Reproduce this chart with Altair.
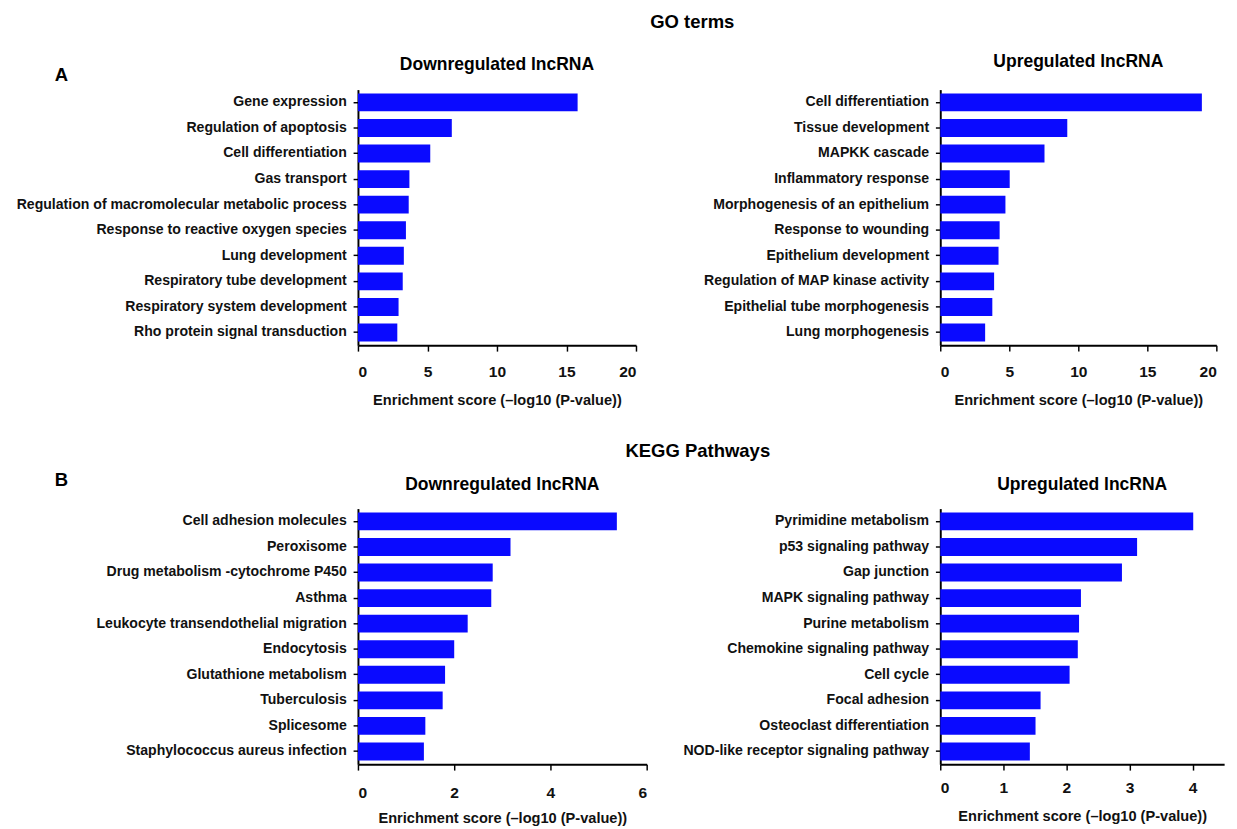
import altair as alt
import pandas as pd

# ---- data ----
go_down_terms = ["Gene expression", "Regulation of apoptosis", "Cell differentiation", "Gas transport",
                 "Regulation of macromolecular metabolic process", "Response to reactive oxygen species",
                 "Lung development", "Respiratory tube development", "Respiratory system development",
                 "Rho protein signal transduction"]
go_down_vals = [15.8, 6.75, 5.2, 3.7, 3.65, 3.45, 3.3, 3.22, 2.92, 2.83]

go_up_terms = ["Cell differentiation", "Tissue development", "MAPKK cascade", "Inflammatory response",
               "Morphogenesis of an epithelium", "Response to wounding", "Epithelium development",
               "Regulation of MAP kinase activity", "Epithelial tube morphogenesis", "Lung morphogenesis"]
go_up_vals = [18.95, 9.2, 7.55, 5.03, 4.72, 4.3, 4.22, 3.9, 3.77, 3.25]

kegg_down_terms = ["Cell adhesion molecules", "Peroxisome", "Drug metabolism -cytochrome P450", "Asthma",
                   "Leukocyte transendothelial migration", "Endocytosis", "Glutathione metabolism",
                   "Tuberculosis", "Splicesome", "Staphylococcus aureus infection"]
kegg_down_vals = [5.38, 3.17, 2.8, 2.77, 2.28, 2.0, 1.81, 1.76, 1.4, 1.37]

kegg_up_terms = ["Pyrimidine metabolism", "p53 signaling pathway", "Gap junction", "MAPK signaling pathway",
                 "Purine metabolism", "Chemokine signaling pathway", "Cell cycle", "Focal adhesion",
                 "Osteoclast differentiation", "NOD-like receptor signaling pathway"]
kegg_up_vals = [4.01, 3.12, 2.88, 2.23, 2.2, 2.18, 2.05, 1.59, 1.51, 1.42]

go_ticks = [0, 5, 10, 15, 20]
kegg_down_ticks = [0, 2, 4, 6]
kegg_up_ticks = [0, 1, 2, 3, 4]

AXIS_TITLE = "Enrichment score (\u2013log10 (P-value))"
BLUE = "#0a0aff"
FONT = "Liberation Sans, Arial, sans-serif"
PLOT_H = 263


def panel(terms, vals, title, domain, ticks, width, title_offset, letter=None, letter_y=-13,
          label_pad=13, title_pad=14):
    df = pd.DataFrame({"term": terms, "score": vals})
    bars = alt.Chart(df).mark_bar(color=BLUE).encode(
        y=alt.Y("term:N", sort=terms, title=None,
                scale=alt.Scale(paddingInner=0.3, paddingOuter=0.15),
                axis=alt.Axis(labelLimit=400, tickSize=5, labelPadding=7, labelFontSize=14.5)),
        x=alt.X("score:Q", title=AXIS_TITLE,
                scale=alt.Scale(domain=domain, nice=False),
                axis=alt.Axis(values=ticks, tickSize=6, labelPadding=label_pad, titlePadding=title_pad,
                              labelFontSize=16, titleFontSize=15)),
    )
    layers = [bars]
    if letter:
        ldf = pd.DataFrame({"letter": [letter]})
        layers.append(
            alt.Chart(ldf).mark_text(font=FONT, fontSize=19, fontWeight="bold", color="black").encode(
                text="letter:N", x=alt.value(-305), y=alt.value(letter_y))
        )
    return alt.layer(*layers).properties(
        width=width, height=PLOT_H,
        title=alt.TitleParams(title, fontSize=18, fontWeight="bold", font=FONT, anchor="middle",
                              frame="group", offset=title_offset, color="black"),
    )


row_a = alt.hconcat(
    panel(go_down_terms, go_down_vals, "Downregulated lncRNA", [0, 20], go_ticks, 286, -8, "A", -15),
    panel(go_up_terms, go_up_vals, "Upregulated lncRNA", [0, 20], go_ticks, 284, 19),
    spacing=67,
    title=alt.TitleParams("GO terms", fontSize=19, fontWeight="bold", font=FONT, anchor="middle",
                          frame="bounds", offset=22, dx=78, color="black"),
)
row_b = alt.hconcat(
    panel(kegg_down_terms, kegg_down_vals, "Downregulated lncRNA", [0, 6], kegg_down_ticks, 297, -23, "B", -29,
          label_pad=15, title_pad=11),
    panel(kegg_up_terms, kegg_up_vals, "Upregulated lncRNA", [0, 4.5], kegg_up_ticks, 292, 15,
          label_pad=10, title_pad=14),
    spacing=36,
    title=alt.TitleParams("KEGG Pathways", fontSize=19, fontWeight="bold", font=FONT, anchor="middle",
                          frame="bounds", offset=11, dx=60, color="black"),
)

chart = alt.vconcat(row_a, row_b, spacing=36).properties(
    padding={"top": -6, "left": 7, "right": 5, "bottom": 5}
).configure_view(
    stroke=None
).configure_axis(
    grid=False, labelFont=FONT, titleFont=FONT, labelFontWeight="bold", titleFontWeight="bold",
    labelColor="#111", titleColor="#111", domainColor="black", domainWidth=2,
    tickColor="black", tickWidth=1.5,
)

chart.save("out.html", embed_options={"renderer": "svg", "actions": False})
